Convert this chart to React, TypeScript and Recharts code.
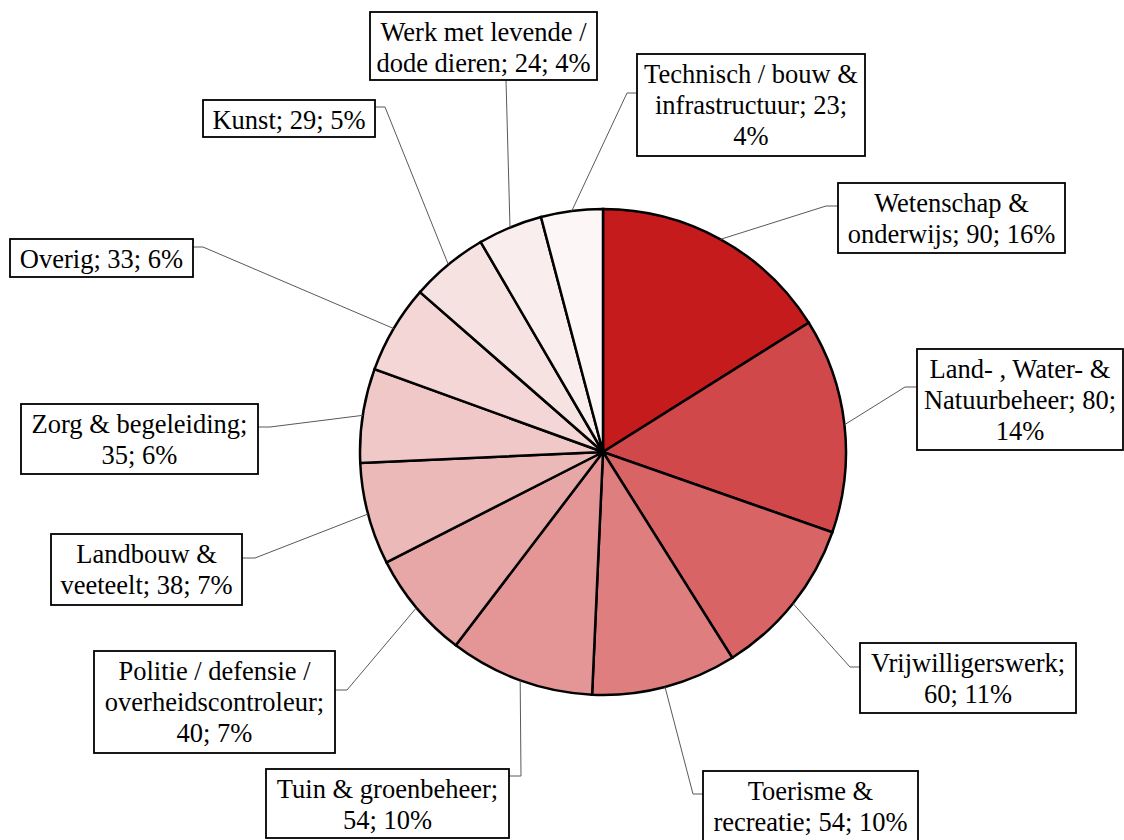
import React from "react"
import { PieChart, Pie, Cell } from "recharts"

// data, clockwise from 12 o'clock
const categories = [
  "Wetenschap & onderwijs",
  "Land- , Water- & Natuurbeheer",
  "Vrijwilligerswerk",
  "Toerisme & recreatie",
  "Tuin & groenbeheer",
  "Politie / defensie / overheidscontroleur",
  "Landbouw & veeteelt",
  "Zorg & begeleiding",
  "Overig",
  "Kunst",
  "Werk met levende / dode dieren",
  "Technisch / bouw & infrastructuur",
]
const counts = [90, 80, 60, 54, 54, 40, 38, 35, 33, 29, 24, 23]

const sliceColors = [
  "#C51B1D",
  "#D0484A",
  "#D86465",
  "#DF7E7F",
  "#E39695",
  "#E8A7A7",
  "#ECB9B9",
  "#F0C8C8",
  "#F4D6D6",
  "#F7E2E2",
  "#F9EDED",
  "#FCF6F6",
]

// words per line for each label
const wrapWords = [
  [2, 3],
  [4, 2, 1],
  [1, 2],
  [2, 3],
  [3, 2],
  [4, 1, 2],
  [2, 3],
  [3, 2],
  [3],
  [3],
  [4, 4],
  [4, 2, 1],
]

// label box layout: rect, elbow point of the leader line, and where it attaches
type Box = { x: number; y: number; w: number; h: number; ex: number; ey: number; side: "left" | "right" | "bottom" }
const labelBoxes: Box[] = [
  { x: 838, y: 183, w: 227, h: 70, ex: 826, ey: 206, side: "left" },
  { x: 917, y: 349, w: 206, h: 101, ex: 905, ey: 387, side: "left" },
  { x: 860, y: 643, w: 216, h: 70, ex: 850, ey: 667, side: "left" },
  { x: 703, y: 771, w: 215, h: 70, ex: 693, ey: 794, side: "left" },
  { x: 266, y: 769, w: 243, h: 69, ex: 521, ey: 776, side: "right" },
  { x: 94, y: 651, w: 241, h: 102, ex: 347, ey: 690, side: "right" },
  { x: 51, y: 534, w: 191, h: 71, ex: 255, ey: 558, side: "right" },
  { x: 21, y: 404, w: 237, h: 70, ex: 270, ey: 427, side: "right" },
  { x: 10, y: 239, w: 183, h: 38, ex: 203, ey: 247, side: "right" },
  { x: 203, y: 100, w: 172, h: 37, ex: 385, ey: 107, side: "right" },
  { x: 370, y: 12, w: 227, h: 68, ex: 506, ey: 80, side: "bottom" },
  { x: 637, y: 54, w: 228, h: 102, ex: 627, ey: 93, side: "left" },
]

const rows = categories.map((name, i) => ({ name, value: counts[i] }))
const RAD = Math.PI / 180
const FONT = '"Liberation Serif", "Times New Roman", serif'

function renderLabel(props: any) {
  const { cx, cy, midAngle, outerRadius, index, name, value, percent } = props
  const box = labelBoxes[index]
  if (!box) return null
  const sx = cx + outerRadius * Math.cos(-midAngle * RAD)
  const sy = cy + outerRadius * Math.sin(-midAngle * RAD)
  let ax = box.ex
  if (box.side === "left") ax = box.x
  if (box.side === "right") ax = box.x + box.w
  const pts =
    box.side === "bottom"
      ? `${sx},${sy} ${box.ex},${box.ey}`
      : `${sx},${sy} ${box.ex},${box.ey} ${ax},${box.ey}`

  const words = `${name}; ${value}; ${Math.round(percent * 100)}%`.split(" ")
  const lines: string[] = []
  let k = 0
  for (const n of wrapWords[index]) {
    lines.push(words.slice(k, k + n).join(" "))
    k += n
  }

  return (
    <g key={`lbl-${index}`}>
      <polyline points={pts} fill="none" stroke="#595959" strokeWidth={1} />
      <rect x={box.x} y={box.y} width={box.w} height={box.h} fill="#fff" stroke="#000" strokeWidth={1.8} />
      {lines.map((ln, i) => (
        <text
          key={i}
          x={box.x + box.w / 2}
          y={box.y + 29 + i * 31}
          textAnchor="middle"
          style={{ fontFamily: FONT, fontSize: 26.5, fill: "#000" }}
        >
          {ln}
        </text>
      ))}
    </g>
  )
}

export default function App() {
  return (
    <div style={{ position: "absolute", left: 0, top: 0, width: 1124, height: 840, background: "#fff" }}>
      <PieChart width={1124} height={840} margin={{ top: 0, right: 0, bottom: 0, left: 0 }}>
        <Pie
          data={rows}
          dataKey="value"
          nameKey="name"
          cx={603}
          cy={452}
          outerRadius={243}
          startAngle={90}
          endAngle={-270}
          stroke="#000"
          strokeWidth={2.5}
          labelLine={false}
          label={renderLabel}
          isAnimationActive={false}
        >
          {rows.map((r, i) => (
            <Cell key={r.name} fill={sliceColors[i]} />
          ))}
        </Pie>
      </PieChart>
    </div>
  )
}
